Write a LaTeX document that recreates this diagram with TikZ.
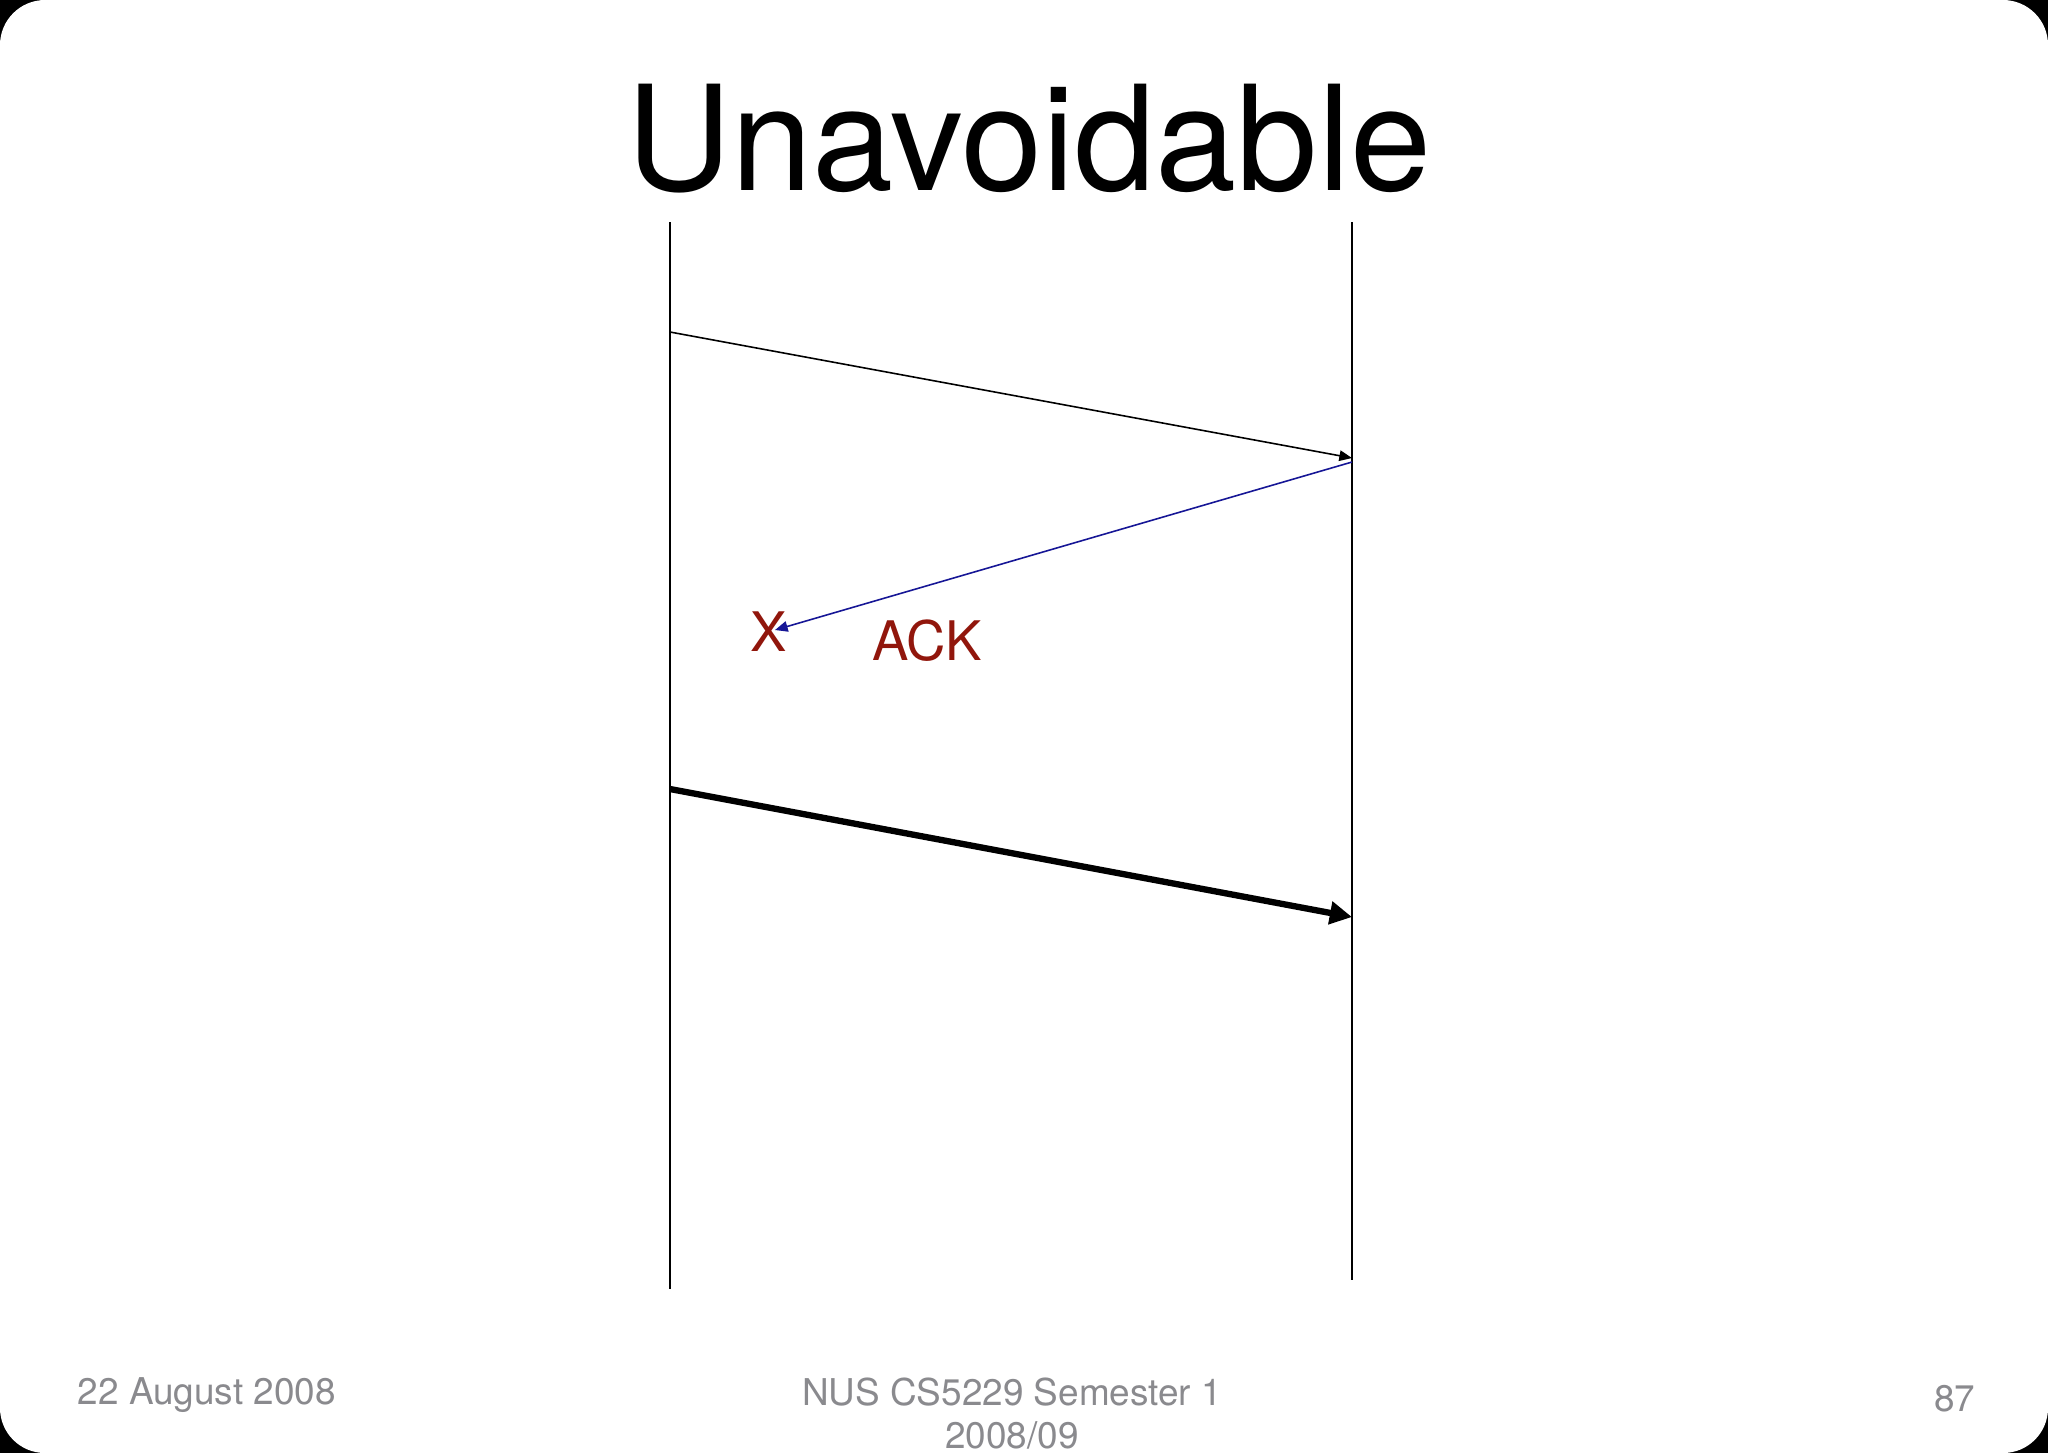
\documentclass[tikz,border=0pt]{standalone}
\usepackage{fontspec}
\setmainfont{TeX Gyre Heros}
\usetikzlibrary{arrows.meta}
\definecolor{lossred}{RGB}{145,22,12}
\definecolor{ackblue}{RGB}{22,22,150}
\definecolor{footgray}{RGB}{138,138,142}

\begin{document}
\begin{tikzpicture}[x=0.01cm,y=-0.01cm]
  \tikzstyle{every node}+=[inner sep=0pt]
  \tikzstyle{lifeline}=[black, line width=0.45pt]
  \tikzstyle{msg}=[black, line width=0.45pt, -{Triangle[length=3.6pt,width=3pt]}]
  \tikzstyle{footer}=[text=footgray, font=\fontsize{10.5}{12}\selectfont]
  % slide frame
  \fill [black] (0,0) rectangle (2048,1453);
  \fill [white, rounded corners=0.45cm] (0,0) rectangle (2048,1453);
  \useasboundingbox (0,0) rectangle (2048,1453);
  \node (title) [anchor=base, font=\fontsize{41.5}{46}\selectfont] at (1029,190) {Unavoidable};
  % the two hosts
  \coordinate (sendtop) at (670,222);
  \coordinate (sendbot) at (670,1289);
  \coordinate (recvtop) at (1352,222);
  \coordinate (recvbot) at (1352,1280);
  \draw [lifeline] (sendtop) -- (sendbot);
  \draw [lifeline] (recvtop) -- (recvbot);
  % first packet
  \coordinate (pkt1s) at (670,332);
  \coordinate (pkt1e) at (1352,458);
  \draw [msg] (pkt1s) -- (pkt1e);
  % ack that is lost
  \coordinate (acks) at (1352,462);
  \node (lost) [text=lossred, font=\fontsize{15.5}{18}\selectfont] at (769,632) {X};
  \coordinate (acke) at (775,630);
  \node (ack) [text=lossred, font=\fontsize{15.5}{18}\selectfont] at (927,641) {ACK};
  \draw [msg, ackblue] (acks) -- (acke);
  % retransmission
  \coordinate (pkt2s) at (670,789);
  \coordinate (pkt2e) at (1352,917);
  \draw [black, line width=1.8pt, -{Triangle[length=6.3pt,width=6.3pt]}] (pkt2s) -- (pkt2e);
  % footer
  \node (date) [footer, anchor=west] at (77,1395) {22 August 2008};
  \node (course) [footer] at (1012,1392) {NUS CS5229 Semester 1};
  \node (year) [footer] at (1012,1435) {2008/09};
  \node (page) [footer, anchor=east] at (1976,1399) {87};
\end{tikzpicture}
\end{document}
